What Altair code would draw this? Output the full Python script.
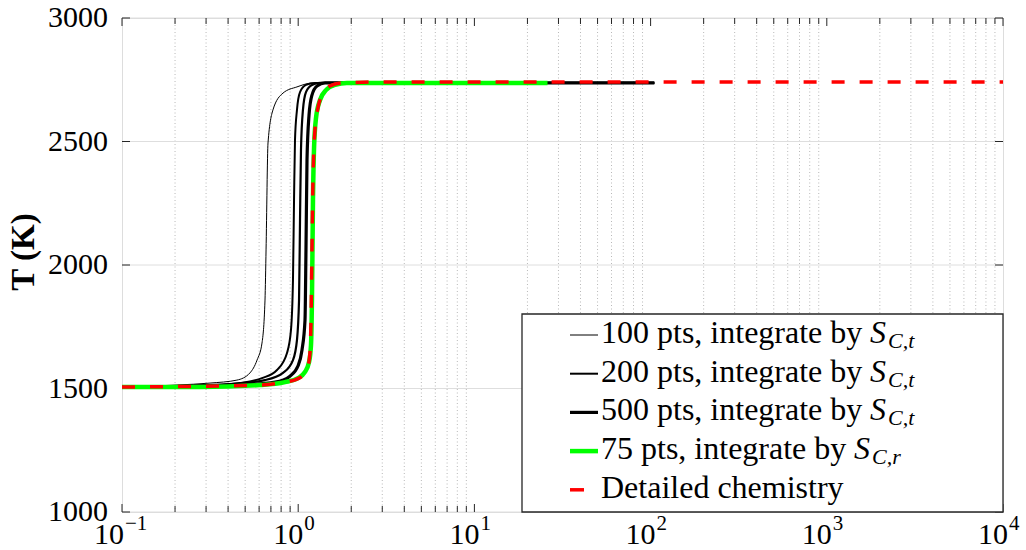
import altair as alt
import pandas as pd

# ---- temperature histories (time in ms, T in K) ----
t_100 = [0.1, 0.205, 0.316, 0.449, 0.532, 0.584, 0.623, 0.648, 0.657, 0.674, 0.719, 0.82, 0.984, 1.213, 105]
T_100 = [1506, 1514, 1522, 1534, 1563, 1615, 1684, 1858, 2061, 2494, 2628, 2696, 2721, 2737, 2737]

t_200 = [0.1, 0.277, 0.467, 0.623, 0.758, 0.864, 0.910, 0.934, 0.947, 0.959, 0.984, 1.024, 1.107, 1.245, 105]
T_200 = [1506, 1510, 1522, 1542, 1575, 1644, 1737, 1939, 2263, 2506, 2628, 2700, 2729, 2737, 2737]

t_300 = [0.1, 0.410, 0.648, 0.820, 0.934, 0.984, 1.011, 1.024, 1.037, 1.064, 1.107, 1.197, 1.330, 105]
T_300 = [1506, 1518, 1534, 1563, 1615, 1696, 1858, 2182, 2466, 2628, 2700, 2729, 2737, 2737]

t_500 = [0.1, 0.467, 0.739, 0.898, 0.997, 1.051, 1.093, 1.107, 1.122, 1.152, 1.197, 1.279, 1.420, 105]
T_500 = [1506, 1514, 1526, 1550, 1591, 1656, 1777, 2061, 2425, 2607, 2688, 2725, 2737, 2737]

t_75r = [0.1, 0.277, 0.607, 0.842, 0.997, 1.093, 1.152, 1.182, 1.197, 1.213, 1.229, 1.262, 1.330, 1.438, 1.618, 1.892, 26]
T_75r = [1506, 1506, 1514, 1526, 1542, 1567, 1607, 1676, 1858, 2263, 2466, 2595, 2668, 2708, 2729, 2737, 2737]

t_det = [0.1, 0.607, 0.842, 0.984, 1.079, 1.137, 1.167, 1.182, 1.197, 1.213, 1.245, 1.295, 1.383, 1.516, 1.773, 2.91, 10000]
T_det = [1506, 1514, 1526, 1538, 1559, 1591, 1648, 1777, 2061, 2344, 2547, 2636, 2696, 2725, 2737, 2741, 2741]

# ---- axes ----
x_major = [0.1, 1, 10, 100, 1000, 10000]
x_exponents = ["\u22121", "0", "1", "2", "3", "4"]
x_minor = [m * d for d in [0.1, 1, 10, 100, 1000] for m in range(2, 10)]
y_major = [1000, 1500, 2000, 2500, 3000]
y_labels = ["1000", "1500", "2000", "2500", "3000"]
y_title = "T (K)"

legend_labels = [
    "100 pts, integrate by",
    "200 pts, integrate by",
    "500 pts, integrate by",
    "75 pts, integrate by",
    "Detailed chemistry",
]
legend_subscripts = ["C,t", "C,t", "C,t", "C,r", ""]

W, H = 881, 494
SERIF = "Liberation Serif"
INK = "#262626"
GRID = "#dedede"

xscale = alt.Scale(type="log", domain=[0.1, 10000], nice=False)
yscale = alt.Scale(domain=[1000, 3000], nice=False, zero=False)

# minor x grid (dotted) – also carries the major x grid via its axis
minor_df = pd.DataFrame({"v": x_minor})
minor_grid = alt.Chart(minor_df).mark_rule(
    color="#b8b8b8", strokeWidth=1, strokeDash=[1, 2.5]
).encode(
    x=alt.X("v:Q", scale=xscale,
            axis=alt.Axis(values=x_major, grid=True, gridColor=GRID, gridWidth=1,
                          labels=False, ticks=False, domain=False, title=None)),
    y=alt.value(0), y2=alt.value(H),
)

# horizontal grid, y tick labels and y title
y_df = pd.DataFrame({"v": y_major, "lab": y_labels})
y_grid = alt.Chart(y_df).mark_rule(color=GRID, strokeWidth=1).encode(
    y=alt.Y("v:Q", scale=yscale, axis=None), x=alt.value(0), x2=alt.value(W))
y_text = alt.Chart(y_df).mark_text(
    align="right", baseline="middle", font=SERIF, fontSize=30, color="black").encode(
    y=alt.Y("v:Q", scale=yscale, axis=None), x=alt.value(-14), text="lab:N")
one = pd.DataFrame({"a": [0]})
y_name = alt.Chart(one).mark_text(
    text=y_title, angle=270, align="center", baseline="middle", font=SERIF,
    fontSize=33, fontWeight="bold", color="black").encode(
    x=alt.value(-98), y=alt.value(234))

# inward ticks on all four sides
ticks = [
    alt.Chart(y_df).mark_rule(color=INK, strokeWidth=1).encode(
        y=alt.Y("v:Q", scale=yscale, axis=None), x=alt.value(0), x2=alt.value(8)),
    alt.Chart(y_df).mark_rule(color=INK, strokeWidth=1).encode(
        y=alt.Y("v:Q", scale=yscale, axis=None), x=alt.value(W - 8), x2=alt.value(W)),
]
major_x_df = pd.DataFrame({"v": x_major})
for df, L in [(major_x_df, 8), (minor_df, 6)]:
    ticks.append(alt.Chart(df).mark_rule(color=INK, strokeWidth=1).encode(
        x=alt.X("v:Q", scale=xscale, axis=None), y=alt.value(H), y2=alt.value(H - L)))
    ticks.append(alt.Chart(df).mark_rule(color=INK, strokeWidth=1).encode(
        x=alt.X("v:Q", scale=xscale, axis=None), y=alt.value(0), y2=alt.value(L)))


def curve(t, T, color, width, dash=None):
    props = dict(color=color, strokeWidth=width, interpolate="monotone", clip=True)
    if dash:
        props["strokeDash"] = dash
    return alt.Chart(pd.DataFrame({"t": t, "T": T})).mark_line(**props).encode(
        x=alt.X("t:Q", scale=xscale, axis=None),
        y=alt.Y("T:Q", scale=yscale, axis=None),
    )


curves = [
    curve(t_100, T_100, "black", 1.0),
    curve(t_200, T_200, "black", 2.0),
    curve(t_300, T_300, "black", 2.2),
    curve(t_500, T_500, "black", 3.2),
    curve(t_75r, T_75r, "#00ff00", 4.5),
    curve(t_det, T_det, "#ff0000", 3.5, dash=[13, 15]),
]

# x tick labels written as 10 with a raised exponent
lab_df = pd.DataFrame({"v": x_major, "e": x_exponents})
xlabels = []
for sel, dx10, dxe in [(lab_df.iloc[:1], 2, 3), (lab_df.iloc[1:], 5, 6)]:
    xlabels.append(alt.Chart(sel).mark_text(
        text="10", align="right", baseline="alphabetic", font=SERIF, fontSize=30,
        color="black", dx=dx10).encode(
        x=alt.X("v:Q", scale=xscale, axis=None), y=alt.value(H + 32)))
    xlabels.append(alt.Chart(sel).mark_text(
        align="left", baseline="alphabetic", font=SERIF, fontSize=21,
        color="black", dx=dxe).encode(
        x=alt.X("v:Q", scale=xscale, axis=None), y=alt.value(H + 18), text="e:N"))

# legend
legend = [alt.Chart(one).mark_rect(fill="white", stroke=INK, strokeWidth=1.3).encode(
    x=alt.value(400), x2=alt.value(W), y=alt.value(296), y2=alt.value(H))]
sample_styles = [("black", 1.0, 28), ("black", 2.0, 28), ("black", 3.2, 28),
                 ("#00ff00", 4.5, 28), ("#ff0000", 3.5, 14)]
s_x = [870, 870, 870, 854, None]
for i, (lab, sub) in enumerate(zip(legend_labels, legend_subscripts)):
    base = 325 + 38.7 * i
    col, sw, ln = sample_styles[i]
    legend.append(alt.Chart(one).mark_rule(color=col, strokeWidth=sw).encode(
        x=alt.value(448), x2=alt.value(448 + ln), y=alt.value(base - 8)))
    legend.append(alt.Chart(one).mark_text(
        text=lab, align="left", baseline="alphabetic", font=SERIF, fontSize=32,
        color="black").encode(x=alt.value(479), y=alt.value(base)))
    if sub:
        sx = s_x[i] - 122
        legend.append(alt.Chart(one).mark_text(
            text="S", align="left", baseline="alphabetic", font=SERIF, fontSize=32,
            fontStyle="italic", color="black").encode(x=alt.value(sx), y=alt.value(base)))
        legend.append(alt.Chart(one).mark_text(
            text=sub, align="left", baseline="alphabetic", font=SERIF, fontSize=22,
            fontStyle="italic", color="black").encode(x=alt.value(sx + 18), y=alt.value(base + 5)))

chart = alt.layer(minor_grid, y_grid, *ticks, *curves, y_text, y_name, *xlabels, *legend).properties(
    width=W, height=H,
    autosize=alt.AutoSizeParams(type="none"),
    padding={"left": 122, "top": 18, "right": 23, "bottom": 38},
).configure_view(stroke=INK, strokeWidth=1.3).configure(background="white")

chart.save("out.html", embed_options={"renderer": "svg", "actions": False})
